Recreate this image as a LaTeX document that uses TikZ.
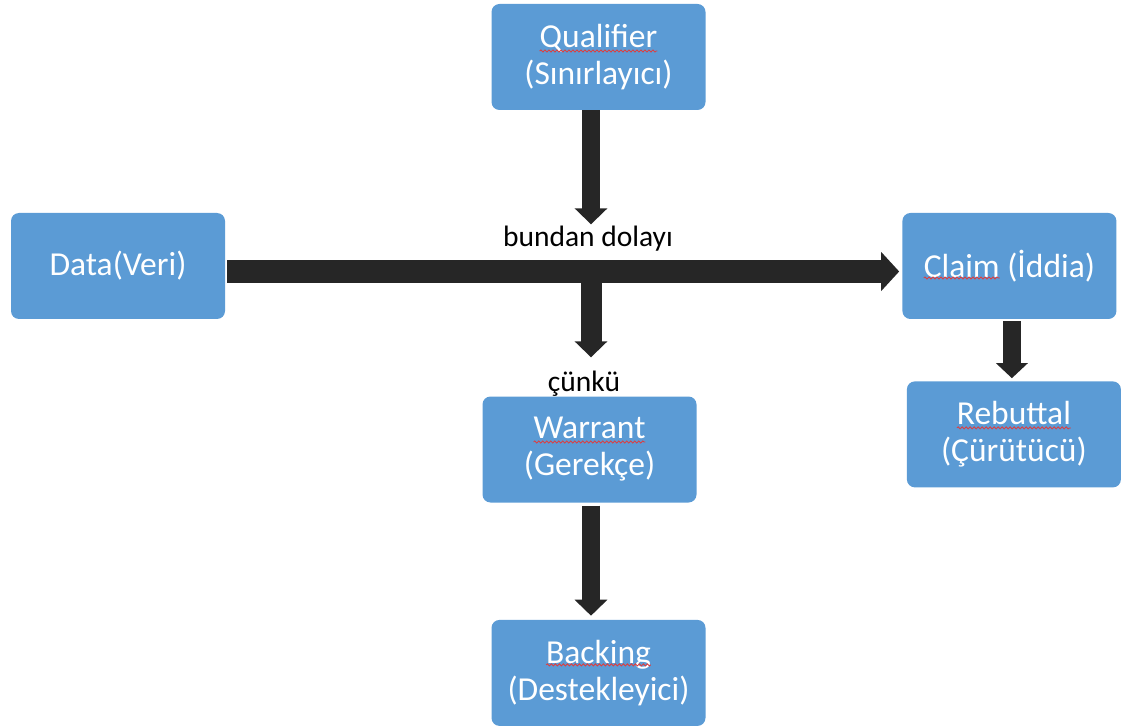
\documentclass[tikz,border=0pt]{standalone}
\usepackage{fontspec}
\setmainfont{Carlito}
\usetikzlibrary{arrows.meta, positioning, decorations.pathmorphing}
\definecolor{boxblue}{HTML}{5B9BD5}
\definecolor{arrowdark}{HTML}{262626}
\definecolor{spellred}{HTML}{E03C3C}
\newcommand\boxfont{\fontsize{33.5}{37}\selectfont}
\newlength\qualw \newlength\claimw \newlength\claimlinew
\newlength\rebutw \newlength\warrw \newlength\backw
% red wavy mark under a word: node, word width, x shift of word centre, y shift of the mark
\newcommand\spellwave[4]{%
  \draw[spell] ([xshift=#3-0.5*#2, yshift=#4]#1.center) -- ([xshift=#3+0.5*#2, yshift=#4]#1.center);%
}
\tikzset{
  font=\boxfont,
  box/.style        = {rectangle, rounded corners=8pt, fill=boxblue, text=white,
                       minimum width=214pt, minimum height=106pt, inner sep=0pt, align=center},
  lbl/.style        = {font=\fontsize{29.5}{33}\selectfont, text=black, inner sep=0pt},
  arrow/.style      = {draw=arrowdark, line width=18pt, -{Triangle[length=16pt,width=32pt]}},
  widearrow/.style  = {draw=arrowdark, line width=23pt, -{Triangle[length=18pt,width=38pt]}},
  spell/.style      = {draw=spellred, line width=0.8pt, decorate,
                       decoration={snake, segment length=4pt, amplitude=1.1pt}}
}
\begin{document}
\settowidth{\qualw}{\boxfont Qualifier}%
\settowidth{\claimw}{\boxfont Claim}%
\settowidth{\claimlinew}{\boxfont Claim (İddia)}%
\settowidth{\rebutw}{\boxfont Rebuttal}%
\settowidth{\warrw}{\boxfont Warrant}%
\settowidth{\backw}{\boxfont Backing}%
\begin{tikzpicture}[x=1pt, y=-1pt]
  \useasboundingbox (0,0) rectangle (1130,727);
  \node[box] (data)     at (118,266)      {Data(Veri)};
  \node[box] (claim)    [right=677pt of data] {Claim (İddia)};
  \node[box] (qual)     at (598.5,57)     {Qualifier\\(Sınırlayıcı)};
  \node[box] (warrant)  at (589.5,449.5)  {Warrant\\(Gerekçe)};
  \node[box] (rebuttal) [below=62pt of claim, xshift=4.5pt] {Rebuttal\\(Çürütücü)};
  \node[box] (backing)  [below=117pt of warrant, xshift=9pt] {Backing\\(Destekleyici)};
  \node[lbl, anchor=base] (dolayi) at (588,247) {bundan dolayı};
  \node[lbl, anchor=base] (cunku)  at (584,391) {çünkü};
  \coordinate (split) at (591,271.5);
  % main line
  \draw[widearrow, shorten <=2pt, shorten >=3pt]
    ([yshift=-5.5pt]data.east) -- ([yshift=-5.5pt]claim.west);
  \draw[arrow, shorten >=2pt] (qual.south -| split) -- (split |- dolayi.north);
  \draw[arrow, line width=21pt, shorten >=13pt] (split) -- (split |- cunku.north);
  \draw[arrow, shorten <=3pt, shorten >=4pt] (warrant.south -| split) -- (split |- backing.north);
  \draw[arrow, -{Triangle[length=15pt,width=31pt]}, shorten <=2pt, shorten >=3pt]
    ([xshift=2.5pt]claim.south) -- ([xshift=2.5pt]claim.south |- rebuttal.north);
  % spelling marks
  \spellwave{qual}{\qualw}{0pt}{6pt}
  \spellwave{claim}{\claimw}{0.5*\claimw-0.5*\claimlinew}{-12pt}
  \spellwave{rebuttal}{\rebutw}{0pt}{6.5pt}
  \spellwave{warrant}{\warrw}{0pt}{7.5pt}
  \spellwave{backing}{\backw}{0pt}{8pt}
\end{tikzpicture}
\end{document}
